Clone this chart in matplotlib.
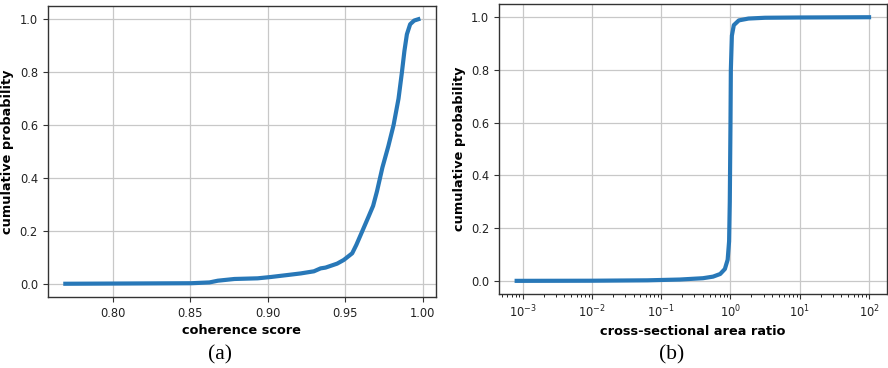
import matplotlib
matplotlib.use("Agg")
import matplotlib.pyplot as plt
import numpy as np

# Panel (a): CDF of coherence score
coh_score = [0.7694, 0.8507, 0.8624, 0.8678, 0.8785, 0.8935, 0.9020, 0.9128,
             0.9213, 0.9298, 0.9341, 0.9373, 0.9448, 0.9491, 0.9545, 0.9572,
             0.9609, 0.9651, 0.9680, 0.9705, 0.9740, 0.9778, 0.9812,
             0.9844, 0.9866, 0.9882, 0.9898, 0.9919, 0.9945, 0.9972]
coh_cdf = [0.001, 0.003, 0.006, 0.0125, 0.019, 0.0215, 0.0265, 0.034,
           0.040, 0.048, 0.059, 0.062, 0.077, 0.091, 0.116, 0.148,
           0.198, 0.255, 0.295, 0.350, 0.440, 0.52, 0.60,
           0.70, 0.80, 0.88, 0.943, 0.981, 0.995, 1.0]

# Panel (b): CDF of cross-sectional area ratio
area_ratio = [8.2e-4, 0.01, 0.063, 0.186, 0.40, 0.56, 0.71, 0.83, 0.91,
              0.955, 0.977, 1.0, 1.012, 1.047, 1.117, 1.32, 1.82, 3.16,
              10.0, 100.0]
area_cdf = [0.0, 0.0005, 0.002, 0.005, 0.010, 0.016, 0.026, 0.045, 0.08,
            0.15, 0.30, 0.60, 0.80, 0.93, 0.97, 0.988, 0.995, 0.998,
            0.999, 1.0]

line_color = "#2878b8"

fig = plt.figure(figsize=(8.88, 3.68), dpi=100)
ax1 = fig.add_axes([0.0537, 0.193, 0.4373, 0.7907])
ax2 = fig.add_axes([0.562, 0.201, 0.4365, 0.788])

for ax in (ax1, ax2):
    ax.grid(True, color="#c8c8c8", linewidth=0.9)
    ax.set_axisbelow(True)
    for s in ax.spines.values():
        s.set_color("#333333")
        s.set_linewidth(1.0)
    ax.tick_params(labelsize=8.3, colors="#333333", labelcolor="#222222")
    ax.set_ylabel("cumulative probability", fontsize=9.3, fontweight="bold",
                  labelpad=4)
    ax.set_yticks([0.0, 0.2, 0.4, 0.6, 0.8, 1.0])

ax1.plot(coh_score, coh_cdf, color=line_color, linewidth=3)
ax1.set_xticks([0.80, 0.85, 0.90, 0.95, 1.00])
ax1.set_xlabel("coherence score", fontsize=9.3, fontweight="bold", labelpad=3)

ax2.plot(area_ratio, area_cdf, color=line_color, linewidth=3)
ax2.set_xscale("log")
ax2.set_xlabel("cross-sectional area ratio", fontsize=9.3, fontweight="bold",
               labelpad=3)

fig.text(0.2477, 0.035, "(a)", fontsize=15.5, family="Liberation Serif",
         ha="center", va="center")
fig.text(0.7564, 0.035, "(b)", fontsize=15.5, family="Liberation Serif",
         ha="center", va="center")

fig.savefig("out.png", dpi=100)
